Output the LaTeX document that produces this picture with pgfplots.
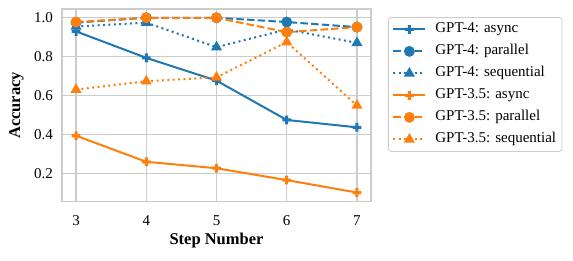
\documentclass[border=0pt]{standalone}
\usepackage{fontspec}
\setmainfont{Liberation Serif}
\usepackage{pgfplots}
\pgfplotsset{compat=1.18}
\definecolor{tabblue}{RGB}{31,119,180}
\definecolor{taborange}{RGB}{255,127,14}
\definecolor{gridgray}{RGB}{204,204,204}
\pgfdeclareplotmark{Pfill}{%
  \pgfpathrectangle{\pgfqpoint{-\pgfplotmarksize}{-0.34\pgfplotmarksize}}{\pgfqpoint{2\pgfplotmarksize}{0.68\pgfplotmarksize}}%
  \pgfpathrectangle{\pgfqpoint{-0.34\pgfplotmarksize}{-\pgfplotmarksize}}{\pgfqpoint{0.68\pgfplotmarksize}{2\pgfplotmarksize}}%
  \pgfusepathqfill}
\pgfplotsset{
  longlegend/.style={legend image code/.code={\draw[mark repeat=2,mark phase=2,##1] plot coordinates {(0pt,0pt) (16pt,0pt) (32pt,0pt)};}},
  dashedline/.style={dash pattern=on 7.5pt off 3.2pt},
  dottedline/.style={dash pattern=on 2pt off 3.4pt},
}
\begin{document}
\fontsize{15}{18}\selectfont
\begin{tikzpicture}
\useasboundingbox (0,0) rectangle (573pt,260pt);
\begin{axis}[
  at={(62pt,58.3pt)}, anchor=south west,
  scale only axis, width=309pt, height=192.7pt,
  xmin=2.8, xmax=7.2, ymin=0.055, ymax=1.045,
  xtick={3,4,5,6,7},
  ytick={0.2,0.4,0.6,0.8,1.0},
  /pgf/number format/assume math mode=true,
  yticklabel style={/pgf/number format/fixed, /pgf/number format/fixed zerofill, /pgf/number format/precision=1, xshift=-4pt},
  xticklabel style={yshift=-9pt},
  ticklabel style={font=\fontsize{15}{18}\selectfont},
  grid=major,
  major grid style={draw=gridgray, line width=1.1pt},
  axis line style={draw=gridgray, line width=1.4pt},
  tick style={draw=none},
  xlabel={\textbf{Step Number}},
  ylabel={\textbf{Accuracy}},
  label style={font=\fontsize{16.5}{19}\selectfont},
  xlabel style={at={(axis description cs:0.5,-0.199)}, anchor=center},
  ylabel style={at={(axis description cs:-0.147,0.5)}, anchor=center, rotate=0},
  legend style={at={(rel axis cs:1.055,0.9585)}, anchor=north west, draw=gridgray, line width=0.8pt, rounded corners=3pt, inner xsep=4pt, inner ysep=3pt, row sep=4pt, column sep=7pt, font=\fontsize{15}{18}\selectfont, nodes={inner sep=2pt, text height=10.5pt, text depth=3.5pt}},
  legend cell align=left,
  longlegend,
  every axis plot/.append style={line width=2pt, mark size=4.4pt, mark options={solid}},
]
\addplot[tabblue, mark=Pfill] coordinates {(3,0.93)(4,0.794)(5,0.677)(6,0.475)(7,0.437)};
\addlegendentry{GPT-4: async}
\addplot[tabblue, dashedline, mark=*] coordinates {(3,0.975)(4,1.0)(5,1.0)(6,0.978)(7,0.952)};
\addlegendentry{GPT-4: parallel}
\addplot[tabblue, dottedline, mark=triangle*] coordinates {(3,0.955)(4,0.975)(5,0.849)(6,0.94)(7,0.871)};
\addlegendentry{GPT-4: sequential}
\addplot[taborange, mark=Pfill] coordinates {(3,0.394)(4,0.26)(5,0.227)(6,0.166)(7,0.102)};
\addlegendentry{GPT-3.5: async}
\addplot[taborange, dashedline, mark=*] coordinates {(3,0.978)(4,1.0)(5,1.0)(6,0.926)(7,0.952)};
\addlegendentry{GPT-3.5: parallel}
\addplot[taborange, dottedline, mark=triangle*] coordinates {(3,0.631)(4,0.674)(5,0.694)(6,0.875)(7,0.549)};
\addlegendentry{GPT-3.5: sequential}
\end{axis}
\end{tikzpicture}
\end{document}
